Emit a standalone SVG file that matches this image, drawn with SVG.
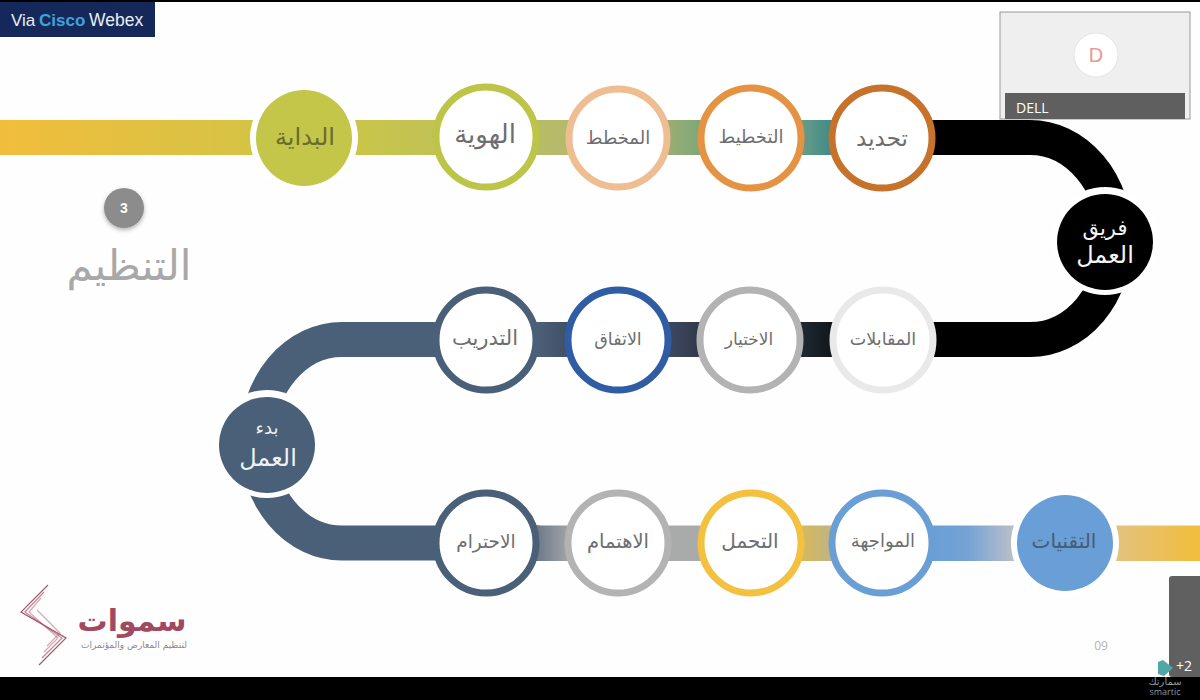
<svg xmlns="http://www.w3.org/2000/svg" width="1200" height="700" viewBox="0 0 1200 700">
<defs>
<linearGradient id="g1" gradientUnits="userSpaceOnUse" x1="0" y1="0" x2="360" y2="0"><stop offset="0" stop-color="#f2bd3c"/><stop offset="1" stop-color="#c9c648"/></linearGradient>
<linearGradient id="g2" gradientUnits="userSpaceOnUse" x1="355" y1="0" x2="570" y2="0"><stop offset="0" stop-color="#c9c648"/><stop offset="1" stop-color="#b5ba6c"/></linearGradient>
<linearGradient id="g3" gradientUnits="userSpaceOnUse" x1="665" y1="0" x2="700" y2="0"><stop offset="0" stop-color="#9dae72"/><stop offset="1" stop-color="#7fa77a"/></linearGradient>
<linearGradient id="g4" gradientUnits="userSpaceOnUse" x1="800" y1="0" x2="832" y2="0"><stop offset="0" stop-color="#6a9d86"/><stop offset="1" stop-color="#408a88"/></linearGradient>
<linearGradient id="g5" gradientUnits="userSpaceOnUse" x1="535" y1="0" x2="570" y2="0"><stop offset="0" stop-color="#4e6176"/><stop offset="1" stop-color="#3f4f66"/></linearGradient>
<linearGradient id="g6" gradientUnits="userSpaceOnUse" x1="668" y1="0" x2="700" y2="0"><stop offset="0" stop-color="#3d4a62"/><stop offset="1" stop-color="#33384a"/></linearGradient>
<linearGradient id="g7" gradientUnits="userSpaceOnUse" x1="800" y1="0" x2="832" y2="0"><stop offset="0" stop-color="#1f2a33"/><stop offset="1" stop-color="#10171c"/></linearGradient>
<linearGradient id="g8" gradientUnits="userSpaceOnUse" x1="535" y1="0" x2="570" y2="0"><stop offset="0" stop-color="#6b7686"/><stop offset="1" stop-color="#a3a7aa"/></linearGradient>
<linearGradient id="g9" gradientUnits="userSpaceOnUse" x1="800" y1="0" x2="832" y2="0"><stop offset="0" stop-color="#d8b95a"/><stop offset="1" stop-color="#bfb486"/></linearGradient>
<linearGradient id="g10" gradientUnits="userSpaceOnUse" x1="935" y1="0" x2="1015" y2="0"><stop offset="0" stop-color="#6a9fd6"/><stop offset="0.4" stop-color="#74a2d4"/><stop offset="1" stop-color="#bcc0c8"/></linearGradient>
<linearGradient id="g11" gradientUnits="userSpaceOnUse" x1="1115" y1="0" x2="1200" y2="0"><stop offset="0" stop-color="#e3c27e"/><stop offset="1" stop-color="#f2bd3c"/></linearGradient>
<filter id="sh" x="-30%" y="-30%" width="160%" height="170%"><feDropShadow dx="0" dy="2" stdDeviation="2" flood-color="#000" flood-opacity="0.3"/></filter>
</defs>
<style>
text{font-family:"DejaVu Sans","Noto Sans",sans-serif;text-anchor:middle}
.en{font-family:"Liberation Sans",sans-serif}
.ring{fill:#fff;stroke-width:7}
.halo{fill:#fff}
.lb{fill:#6e6e6e}
.band{fill:none;stroke-width:35}
.logo{fill:none;stroke:#a8566c;stroke-width:1.2}
</style>
<rect width="1200" height="700" fill="#fefefe"/>

<g id="connectors">
<rect x="0" y="120" width="360" height="35" fill="url(#g1)"/>
<rect x="355" y="120" width="215" height="35" fill="url(#g2)"/>
<rect x="665" y="120" width="40" height="35" fill="url(#g3)"/>
<rect x="800" y="120" width="35" height="35" fill="url(#g4)"/>
<path class="band" stroke="#000" d="M930 137.500H1030A85 101 0 0 1 1030 339.500H930"/>
<rect x="800" y="322" width="35" height="35" fill="url(#g7)"/>
<rect x="668" y="322" width="35" height="35" fill="url(#g6)"/>
<rect x="535" y="322" width="35" height="35" fill="url(#g5)"/>
<path class="band" stroke="#4a5f78" d="M540 339.500H342A85 101.500 0 0 0 342 543H540"/>
<rect x="535" y="525.500" width="35" height="35.500" fill="url(#g8)"/>
<rect x="668" y="525.500" width="35" height="35.500" fill="#a9abab"/>
<rect x="800" y="525.500" width="35" height="35.500" fill="url(#g9)"/>
<rect x="932" y="525.500" width="90" height="35.500" fill="url(#g10)"/>
<rect x="1110" y="525.500" width="90" height="35.500" fill="url(#g11)"/>
</g>

<g id="n-start"><circle class="halo" cx="304" cy="138" r="54"/><circle cx="304" cy="138" r="48" fill="#c3c649"/><text x="305" y="145" font-size="24" fill="#6a6a32">البداية</text></g>
<g id="n-identity"><circle class="ring" cx="486" cy="137" r="50" stroke="#bcc548"/><text x="485" y="143" font-size="26" class="lb">الهوية</text></g>
<g id="n-outline"><circle class="ring" cx="618" cy="138" r="49" stroke="#eebd92"/><text x="618" y="144" font-size="18" class="lb">المخطط</text></g>
<g id="n-planning"><circle class="ring" cx="751" cy="138" r="50" stroke="#e59343"/><text x="751" y="143" font-size="18" class="lb">التخطيط</text></g>
<g id="n-define"><circle class="ring" cx="882" cy="138" r="50" stroke="#c6722b"/><text x="882" y="146" font-size="23" class="lb">تحديد</text></g>
<g id="n-team"><circle class="halo" cx="1105" cy="241" r="54"/><circle cx="1105" cy="242" r="48" fill="#000"/><text x="1105" y="235" font-size="21" fill="#f4f4f4">فريق</text><text x="1105" y="263" font-size="24" fill="#f4f4f4">العمل</text></g>
<g id="n-interviews"><circle class="ring" cx="883" cy="340" r="50" stroke="#e8e9e8"/><text x="883" y="345" font-size="17.500" class="lb">المقابلات</text></g>
<g id="n-selection"><circle class="ring" cx="750" cy="340" r="50" stroke="#b3b3b3"/><text x="749" y="345" font-size="17" class="lb">الاختيار</text></g>
<g id="n-agreement"><circle class="ring" cx="618" cy="340" r="50" stroke="#2f5ca3"/><text x="618" y="345" font-size="17.500" class="lb">الاتفاق</text></g>
<g id="n-training"><circle class="ring" cx="486" cy="340" r="50" stroke="#4a5f78"/><text x="485" y="345" font-size="21" class="lb">التدريب</text></g>
<g id="n-begin"><circle class="halo" cx="267" cy="444" r="54"/><circle cx="267" cy="445" r="48" fill="#4a5f78"/><text x="267" y="434" font-size="18" fill="#eef2f5">بدء</text><text x="268" y="466" font-size="24" fill="#eef2f5">العمل</text></g>
<g id="n-respect"><circle class="ring" cx="486" cy="543" r="50" stroke="#4a5f78"/><text x="486" y="548" font-size="18.500" class="lb">الاحترام</text></g>
<g id="n-care"><circle class="ring" cx="618" cy="543" r="50" stroke="#b3b3b3"/><text x="618" y="548" font-size="19.500" class="lb">الاهتمام</text></g>
<g id="n-endure"><circle class="ring" cx="751" cy="543" r="50" stroke="#f3c03f"/><text x="750" y="548" font-size="20" class="lb">التحمل</text></g>
<g id="n-confront"><circle class="ring" cx="882" cy="543" r="50" stroke="#6a9fd6"/><text x="883" y="547" font-size="18" class="lb">المواجهة</text></g>
<g id="n-tech"><circle class="halo" cx="1065" cy="543" r="54"/><circle cx="1065" cy="543" r="48" fill="#699ed6"/><text x="1064" y="548" font-size="20" fill="#465c72">التقنيات</text></g>

<g id="section-title"><circle cx="124" cy="208" r="20" fill="#8c8c8c" filter="url(#sh)"/><text x="124" y="213" font-size="14" font-weight="bold" class="en" fill="#fff">3</text><text x="129" y="280" font-size="42" fill="#a8a8a8">التنظيم</text></g>

<g id="webex"><rect x="0" y="2" width="155" height="35" fill="#14295a"/><text x="11" y="26" font-size="17" class="en" style="text-anchor:start" fill="#e8eef5">Via</text><text x="39" y="26" font-size="17" font-weight="bold" class="en" style="text-anchor:start" fill="#3fa3dc">Cisco</text><text x="89" y="26" font-size="17.500" class="en" style="text-anchor:start" fill="#e8eef5">Webex</text></g>
<g id="participant"><rect x="1000" y="12" width="190" height="107" fill="#efefef" stroke="#999"/><circle cx="1096" cy="55" r="22" fill="#fff" stroke="#e4e4e4"/><text x="1096" y="62" font-size="20" class="en" fill="#e59a95">D</text><rect x="1005" y="93" width="180" height="26" fill="#5f5f5f"/><text x="1016" y="113" font-size="14" style="text-anchor:start;font-family:'Open Sans',sans-serif" fill="#fff">DELL</text></g>
<g id="logo">
<polyline class="logo" points="48,585 21,612 66,638 39,665"/>
<polyline class="logo" points="44,592 25,612 62,638 42,658" stroke-opacity="0.7"/>
<polyline class="logo" points="41,598 29,612 58,638 44,652" stroke-opacity="0.5"/>
<polyline class="logo" points="37,610 60,633 47,646" stroke-opacity="0.5"/>
<text x="132" y="631" font-size="30" font-weight="bold" fill="#a0495f">سموات</text>
<text x="134" y="648" font-size="9" fill="#8a8a8a">لتنظيم المعارض والمؤتمرات</text>
</g>
<text x="1101" y="650" font-size="12" fill="#b5b5b5" style="font-family:'Open Sans',sans-serif">09</text>
<rect x="0" y="0" width="1200" height="2" fill="#000"/>
<rect x="0" y="677" width="1200" height="23" fill="#000"/>
<g id="overlay"><rect x="1169" y="576" width="36" height="101" rx="3" fill="#606060"/><text x="1184" y="671" font-size="14" fill="#fff" style="font-family:'Open Sans',sans-serif">+2</text><polygon points="1158,662 1163,660 1173,668 1164,676 1158,674" fill="#4fa7a6"/><text x="1165" y="685" font-size="10" fill="#8a9a9a">سمارتك</text><text x="1165" y="695" font-size="9" fill="#8a9a9a" style="font-family:'Open Sans',sans-serif">smartic</text></g>
</svg>
